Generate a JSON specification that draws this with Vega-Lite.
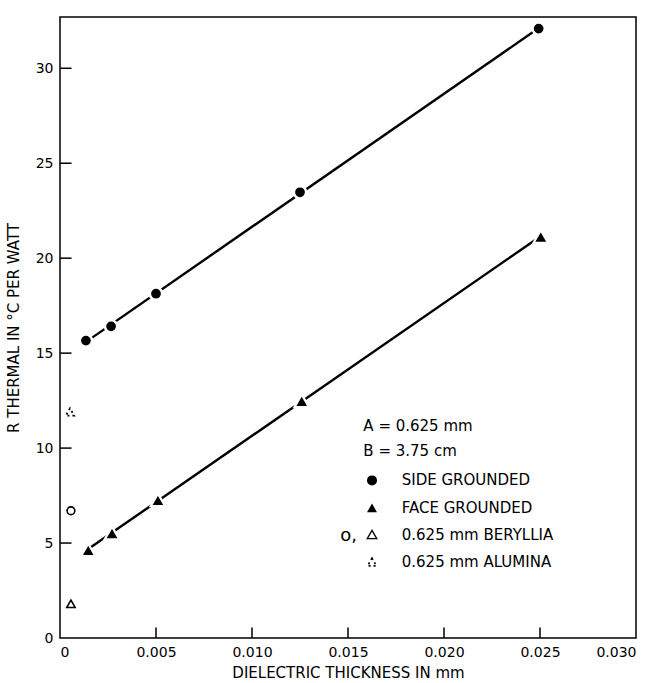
{
  "$schema": "https://vega.github.io/schema/vega-lite/v6.json",
  "autosize": {"type": "none"},
  "width": 576,
  "height": 621,
  "padding": {"left": 60, "top": 17, "right": 30, "bottom": 45},
  "background": "white",
  "config": {
    "view": {"stroke": "black", "strokeWidth": 1.5},
    "font": "DejaVu Sans",
    "axis": {
      "grid": false,
      "ticks": false,
      "labelColor": "black",
      "titleColor": "black",
      "labelFont": "DejaVu Sans",
      "titleFont": "DejaVu Sans",
      "labelFontSize": 14,
      "titleFontSize": 15,
      "titleFontWeight": "normal"
    }
  },
  "datasets": {
    "measured": [
      {"x": 0.00135, "y": 15.66, "series": "side"},
      {"x": 0.00266, "y": 16.41, "series": "side"},
      {"x": 0.0050, "y": 18.13, "series": "side"},
      {"x": 0.0125, "y": 23.47, "series": "side"},
      {"x": 0.02493, "y": 32.09, "series": "side"},
      {"x": 0.00147, "y": 4.64, "series": "face"},
      {"x": 0.00271, "y": 5.53, "series": "face"},
      {"x": 0.0051, "y": 7.27, "series": "face"},
      {"x": 0.01259, "y": 12.49, "series": "face"},
      {"x": 0.02504, "y": 21.14, "series": "face"}
    ],
    "bulk": [
      {"x": 0.00057, "y": 6.7, "kind": "beryllia_side"},
      {"x": 0.00057, "y": 1.8, "kind": "beryllia_face"},
      {"x": 0.00052, "y": 11.9, "kind": "alumina"}
    ],
    "xticks": [
      {"v": 0.005}, {"v": 0.01}, {"v": 0.015}, {"v": 0.02}, {"v": 0.025}
    ],
    "yticks": [
      {"v": 5}, {"v": 10}, {"v": 15}, {"v": 20}, {"v": 25}, {"v": 30}
    ],
    "legendText": [
      {"x": 0.0158, "y": 11.15, "label": "A = 0.625 mm"},
      {"x": 0.0158, "y": 9.85, "label": "B = 3.75 cm"},
      {"x": 0.0178, "y": 8.3, "label": "SIDE  GROUNDED"},
      {"x": 0.0178, "y": 6.85, "label": "FACE  GROUNDED"},
      {"x": 0.0178, "y": 5.45, "label": "0.625 mm BERYLLIA"},
      {"x": 0.0178, "y": 4.0, "label": "0.625 mm ALUMINA"}
    ],
    "legendSymbols": [
      {"x": 0.01625, "y": 8.3, "sym": "filledCircle"},
      {"x": 0.01625, "y": 6.85, "sym": "filledTriangle"},
      {"x": 0.0146, "y": 5.35, "sym": "openCircle"},
      {"x": 0.01625, "y": 5.45, "sym": "openTriangle"},
      {"x": 0.01625, "y": 4.0, "sym": "dottedTriangle"}
    ]
  },
  "layer": [
    {
      "data": {"name": "xticks"},
      "mark": {"type": "rule", "color": "black", "strokeWidth": 1.5, "opacity": 1},
      "encoding": {
        "x": {"field": "v", "type": "quantitative"},
        "y": {"datum": 0},
        "y2": {"datum": 0.55}
      }
    },
    {
      "data": {"name": "yticks"},
      "mark": {"type": "rule", "color": "black", "strokeWidth": 1.5, "opacity": 1},
      "encoding": {
        "y": {"field": "v", "type": "quantitative"},
        "x": {"datum": 0},
        "x2": {"datum": 0.0006}
      }
    },
    {
      "data": {"name": "measured"},
      "transform": [
        {"regression": "y", "on": "x", "groupby": ["series"], "extent": [0.0013, 0.0249]}
      ],
      "mark": {"type": "line", "color": "black", "strokeWidth": 2.4},
      "encoding": {
        "x": {"field": "x", "type": "quantitative"},
        "y": {"field": "y", "type": "quantitative"},
        "detail": {"field": "series"}
      }
    },
    {
      "data": {"name": "measured"},
      "transform": [{"filter": "datum.series === 'side'"}],
      "mark": {"type": "point", "shape": "circle", "filled": true, "fill": "black", "stroke": "white", "strokeWidth": 2.5, "size": 150, "opacity": 1, "fillOpacity": 1, "strokeOpacity": 1},
      "encoding": {
        "x": {
          "field": "x", "type": "quantitative",
          "scale": {"domain": [0, 0.03], "nice": false, "zero": false},
          "axis": {
            "title": "DIELECTRIC THICKNESS IN mm",
            "values": [0, 0.005, 0.01, 0.015, 0.02, 0.025, 0.03],
            "labelExpr": "datum.value == 0 ? '0' : format(datum.value, '.3f')",
            "labelPadding": 7,
            "titlePadding": 6,
            "domain": false
          }
        },
        "y": {
          "field": "y", "type": "quantitative",
          "scale": {"domain": [0, 32.7], "nice": false},
          "axis": {
            "title": "R THERMAL IN °C PER WATT",
            "values": [0, 5, 10, 15, 20, 25, 30],
            "labelPadding": 7,
            "titlePadding": 14,
            "domain": false
          }
        }
      }
    },
    {
      "data": {"name": "measured"},
      "transform": [{"filter": "datum.series === 'face'"}],
      "mark": {"type": "point", "shape": "triangle-up", "filled": true, "fill": "black", "stroke": "white", "strokeWidth": 2.2, "size": 210, "opacity": 1, "fillOpacity": 1, "strokeOpacity": 1},
      "encoding": {
        "x": {"field": "x", "type": "quantitative"},
        "y": {"field": "y", "type": "quantitative"}
      }
    },
    {
      "data": {"name": "bulk"},
      "transform": [{"filter": "datum.kind === 'beryllia_side'"}],
      "mark": {"type": "point", "shape": "circle", "filled": false, "color": "black", "strokeWidth": 1.6, "size": 60, "opacity": 1},
      "encoding": {
        "x": {"field": "x", "type": "quantitative"},
        "y": {"field": "y", "type": "quantitative"}
      }
    },
    {
      "data": {"name": "bulk"},
      "transform": [{"filter": "datum.kind === 'beryllia_face'"}],
      "mark": {"type": "point", "shape": "triangle-up", "filled": false, "color": "black", "strokeWidth": 1.6, "size": 70, "opacity": 1},
      "encoding": {
        "x": {"field": "x", "type": "quantitative"},
        "y": {"field": "y", "type": "quantitative"}
      }
    },
    {
      "data": {"name": "bulk"},
      "transform": [{"filter": "datum.kind === 'alumina'"}],
      "mark": {"type": "point", "shape": "triangle-up", "filled": false, "color": "black", "strokeWidth": 1.8, "strokeDash": [2, 3], "size": 70, "opacity": 1},
      "encoding": {
        "x": {"field": "x", "type": "quantitative"},
        "y": {"field": "y", "type": "quantitative"}
      }
    },
    {
      "data": {"name": "legendText"},
      "mark": {"type": "text", "align": "left", "baseline": "middle", "fontSize": 15, "color": "black", "font": "DejaVu Sans"},
      "encoding": {
        "x": {"field": "x", "type": "quantitative"},
        "y": {"field": "y", "type": "quantitative"},
        "text": {"field": "label"}
      }
    },
    {
      "data": {"name": "legendSymbols"},
      "transform": [{"filter": "datum.sym === 'filledCircle'"}],
      "mark": {"type": "point", "shape": "circle", "filled": true, "color": "black", "size": 100, "opacity": 1},
      "encoding": {
        "x": {"field": "x", "type": "quantitative"},
        "y": {"field": "y", "type": "quantitative"}
      }
    },
    {
      "data": {"name": "legendSymbols"},
      "transform": [{"filter": "datum.sym === 'filledTriangle'"}],
      "mark": {"type": "point", "shape": "triangle-up", "filled": true, "color": "black", "size": 100, "opacity": 1},
      "encoding": {
        "x": {"field": "x", "type": "quantitative"},
        "y": {"field": "y", "type": "quantitative"}
      }
    },
    {
      "data": {"name": "legendSymbols"},
      "transform": [{"filter": "datum.sym === 'openCircle'"}],
      "mark": {"type": "text", "text": "o,", "align": "left", "baseline": "middle", "fontSize": 18, "color": "black", "font": "DejaVu Sans"},
      "encoding": {
        "x": {"field": "x", "type": "quantitative"},
        "y": {"field": "y", "type": "quantitative"}
      }
    },
    {
      "data": {"name": "legendSymbols"},
      "transform": [{"filter": "datum.sym === 'openTriangle'"}],
      "mark": {"type": "point", "shape": "triangle-up", "filled": false, "color": "black", "strokeWidth": 1.3, "size": 90, "opacity": 1},
      "encoding": {
        "x": {"field": "x", "type": "quantitative"},
        "y": {"field": "y", "type": "quantitative"}
      }
    },
    {
      "data": {"name": "legendSymbols"},
      "transform": [{"filter": "datum.sym === 'dottedTriangle'"}],
      "mark": {"type": "point", "shape": "triangle-up", "filled": false, "color": "black", "strokeWidth": 1.6, "strokeDash": [2, 3], "size": 80, "opacity": 1},
      "encoding": {
        "x": {"field": "x", "type": "quantitative"},
        "y": {"field": "y", "type": "quantitative"}
      }
    }
  ]
}
